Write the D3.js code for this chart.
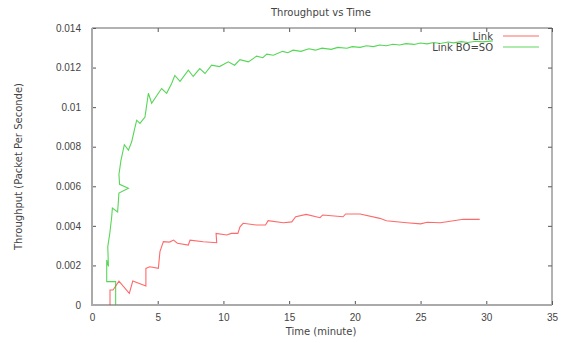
<!DOCTYPE html>
<html>
<head>
<meta charset="utf-8">
<script src="https://cdn.jsdelivr.net/npm/d3@7"></script>
<style>
  body { margin: 0; background: #fff; }
  svg { display: block; font-family: "DejaVu Sans", sans-serif; }
  .tick text { fill: #444; font-size: 10px; }
</style>
</head>
<body>
<svg id="chart"></svg>
<script>
// tick labels
const xTicks = [0, 5, 10, 15, 20, 25, 30, 35];
const yTicks = [0, 0.002, 0.004, 0.006, 0.008, 0.01, 0.012, 0.014];

// "Link" series (time in minutes, throughput)
const linkTime = [1.37, 1.37, 1.6, 2.05, 2.84, 3.1, 4.1, 4.1, 4.4, 5.05, 5.17, 5.43, 5.9, 6.2, 6.5,
  7.33, 7.46, 8.47, 9.49, 9.44, 10.25, 10.6, 11.1, 11.26, 11.5, 12.5, 13.2, 13.4, 14.56, 15.2,
  15.5, 16.3, 17.35, 17.55, 19.1, 19.3, 20.4, 21.9, 22.4, 23.95, 25.0, 25.5, 26.5, 28.25, 29.5];
const linkValue = [0, 0.00076, 0.00076, 0.0012, 0.00059, 0.00121, 0.00096, 0.00185, 0.00193, 0.00185,
  0.0027, 0.0032, 0.00318, 0.00328, 0.00312, 0.00303, 0.00328, 0.0032, 0.00315, 0.00362, 0.00354,
  0.00362, 0.00362, 0.00395, 0.00413, 0.00404, 0.00404, 0.00426, 0.00416, 0.0042, 0.00446, 0.00458,
  0.00441, 0.00455, 0.00446, 0.0046, 0.0046, 0.00438, 0.00426, 0.00416, 0.0041, 0.00418, 0.00416,
  0.00433, 0.00433];

// "Link BO=SO" series
const boTime = [1.8, 1.8, 1.12, 1.12, 1.25, 1.2, 1.35, 1.5, 1.55, 1.95, 2.05, 2.77, 2.1, 2.05, 2.2,
  2.46, 2.77, 3.02, 3.22, 3.4, 3.65, 4.03, 4.29, 4.54, 5.05, 5.3, 5.68, 6.06, 6.3, 6.7, 7.33, 7.7,
  8.2, 8.6, 9.1, 9.7, 10.37, 10.85, 11.26, 11.9, 12.53, 13.0, 13.3, 13.8, 14.5, 14.9, 15.3, 15.9,
  16.5, 17.0, 17.5, 18.2, 18.7, 19.4, 19.8, 20.4, 20.9, 21.4, 21.9, 22.4, 22.9, 23.4, 23.9, 24.5,
  25.0, 25.5, 26.0, 26.5, 27.1, 27.5, 28.1, 28.6, 29.2, 29.7, 30.5];
const boValue = [0, 0.00118, 0.00118, 0.00227, 0.00195, 0.00295, 0.0036, 0.00446, 0.0049, 0.0047,
  0.00566, 0.0059, 0.0061, 0.0066, 0.0073, 0.0081, 0.00783, 0.00825, 0.00884, 0.00934, 0.00918,
  0.0095, 0.0107, 0.0102, 0.0107, 0.01094, 0.0107, 0.0112, 0.0116, 0.0113, 0.01187, 0.01155,
  0.01195, 0.0117, 0.01212, 0.01205, 0.01229, 0.01212, 0.0124, 0.01229, 0.01258, 0.0125, 0.01268,
  0.01262, 0.01282, 0.01275, 0.01288, 0.01282, 0.01295, 0.01288, 0.01298, 0.01292, 0.01302,
  0.01298, 0.01306, 0.01302, 0.0131, 0.01306, 0.01314, 0.0131, 0.01318, 0.01314, 0.01321,
  0.01317, 0.01324, 0.0132, 0.01327, 0.01322, 0.01329, 0.01325, 0.01331, 0.01327, 0.01333,
  0.0133, 0.01335];

const width = 561, height = 343;
const mLeft = 92, mRight = 552, mTop = 28, mBottom = 305;

const svg = d3.select("#chart").attr("width", width).attr("height", height);

const x = d3.scaleLinear().domain([0, 35]).range([mLeft, mRight]);
const y = d3.scaleLinear().domain([0, 0.014]).range([mBottom, mTop]);

// axes, ticks inward on all four sides
const fmtY = d => d === 0 ? "0" : String(+d.toFixed(3));
svg.append("g").attr("transform", `translate(0,${mBottom})`)
  .call(d3.axisBottom(x).tickValues(xTicks).tickSize(-4).tickPadding(9))
  .call(g => g.select(".domain").remove());
svg.append("g").attr("transform", `translate(0,${mTop})`)
  .call(d3.axisTop(x).tickValues(xTicks).tickSize(-4).tickFormat(""))
  .call(g => g.select(".domain").remove());
svg.append("g").attr("transform", `translate(${mLeft},0)`)
  .call(d3.axisLeft(y).tickValues(yTicks).tickSize(-4).tickPadding(11).tickFormat(fmtY))
  .call(g => g.select(".domain").remove());
svg.append("g").attr("transform", `translate(${mRight},0)`)
  .call(d3.axisRight(y).tickValues(yTicks).tickSize(-4).tickFormat(""))
  .call(g => g.select(".domain").remove());
svg.selectAll(".tick line").attr("stroke", "#555");

// border
svg.append("path")
  .attr("d", `M${mLeft},${mTop}H${mRight}V${mBottom}`)
  .attr("fill", "none").attr("stroke", "#666").attr("stroke-width", 1);
svg.append("path")
  .attr("d", `M${mLeft},${mTop}V${mBottom}H${mRight}`)
  .attr("fill", "none").attr("stroke", "#aaa").attr("stroke-width", 2);

// lines
const line = d3.line().x(d => x(d[0])).y(d => y(d[1]));
const linkData = linkTime.map((t, i) => [t, linkValue[i]]);
const boData = boTime.map((t, i) => [t, boValue[i]]);

svg.append("path").datum(linkData).attr("d", line)
  .attr("fill", "none").attr("stroke", "#ff2a2a").attr("stroke-opacity", 0.7).attr("stroke-width", 1.1);
svg.append("path").datum(boData).attr("d", line)
  .attr("fill", "none").attr("stroke", "#1ec81e").attr("stroke-opacity", 0.75).attr("stroke-width", 1.1);

// legend
const legend = [["Link", "#ff2a2a", 36], ["Link BO=SO", "#1ec81e", 47]];
legend.forEach(([name, color, ly]) => {
  svg.append("text").attr("x", 493).attr("y", ly + 3.5).attr("text-anchor", "end")
    .attr("font-size", 10).attr("fill", "#444").text(name);
  svg.append("line").attr("x1", 503).attr("x2", 539).attr("y1", ly).attr("y2", ly)
    .attr("stroke", color).attr("stroke-opacity", 0.7).attr("stroke-width", 1.1);
});

// titles
svg.append("text").attr("x", 321).attr("y", 16).attr("text-anchor", "middle")
  .attr("font-size", 10).attr("fill", "#444").text("Throughput vs Time");
svg.append("text").attr("x", 321).attr("y", 335).attr("text-anchor", "middle")
  .attr("font-size", 10).attr("fill", "#444").text("Time (minute)");
svg.append("text").attr("transform", `translate(22,${(mTop + mBottom) / 2}) rotate(-90)`)
  .attr("text-anchor", "middle").attr("font-size", 10).attr("fill", "#444")
  .text("Throughput (Packet Per Seconde)");
</script>
</body>
</html>
